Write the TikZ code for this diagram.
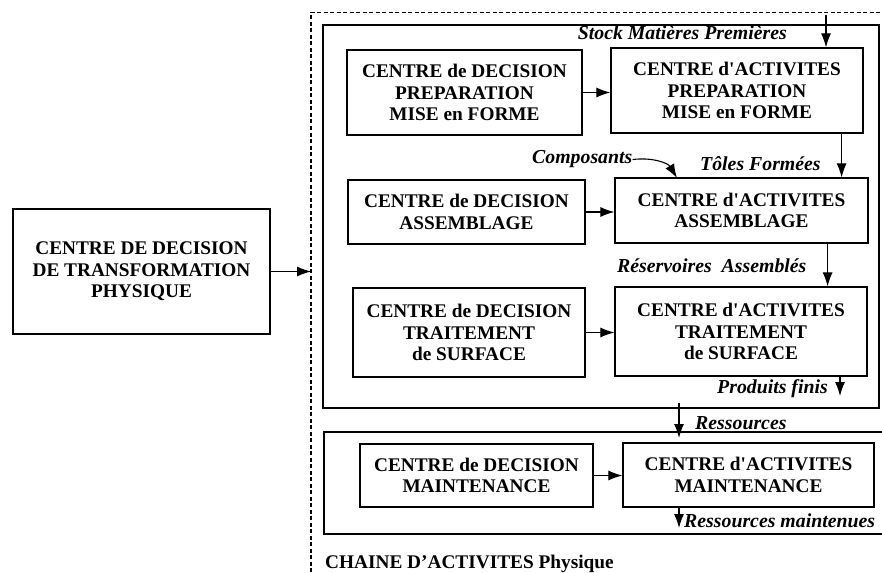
\documentclass[tikz,border=0pt]{standalone}
\usepackage{fontspec}
\setmainfont{Liberation Serif}
\usetikzlibrary{arrows.meta, positioning}

\tikzset{
  centre/.style={draw, line width=1.2pt, align=center, inner sep=0pt,
    font=\fontsize{19.3}{21.5}\selectfont\bfseries},
  flux/.style={font=\fontsize{19.8}{22}\selectfont\bfseries\itshape, inner sep=0pt},
  fl/.style={-{Latex[length=14pt,width=10pt]}, line width=1.1pt}
}

\begin{document}
\begin{tikzpicture}[x=1pt, y=-1pt]
  \useasboundingbox (0,0) rectangle (882,572);
  % chaine d'activites (dashed frame) and the two sub-chains
  \draw[line width=1.3pt, dash pattern=on 4pt off 2.5pt] (311,572) -- (311,12.5) -- (884,12.5);
  \draw[line width=1.1pt] (323,25) rectangle (879,408);
  \draw[line width=1.1pt] (884,432) -- (324,432) -- (324,534) -- (884,534);
  % decision centre on the left
  \node[centre, minimum width=257pt, minimum height=125pt] (dt) at (141.5,271.5)
    {CENTRE DE DECISION\\DE TRANSFORMATION\\PHYSIQUE};
  \coordinate (chaine) at (311,271.5);
  \draw[fl] (dt.east) -- (chaine);
  % preparation / mise en forme
  \node[centre, minimum width=235pt, minimum height=85pt] (dp) at (464.5,92.5)
    {CENTRE de DECISION\\PREPARATION\\MISE en FORME};
  \node[centre, minimum width=252pt, minimum height=85pt] (ap) at (737,90.5)
    {CENTRE d\textquotesingle ACTIVITES\\PREPARATION\\MISE en FORME};
  % assemblage
  \node[centre, minimum width=237pt, minimum height=64pt] (da) at (466.5,212)
    {CENTRE de DECISION\\ASSEMBLAGE};
  \node[centre, minimum width=253pt, minimum height=65pt] (aa) at (741.5,210.5)
    {CENTRE d\textquotesingle ACTIVITES\\ASSEMBLAGE};
  % traitement de surface
  \node[centre, minimum width=232pt, minimum height=89pt] (ds) at (469,332.5)
    {CENTRE de DECISION\\TRAITEMENT\\de SURFACE};
  \node[centre, minimum width=252pt, minimum height=89pt] (as) at (741,331.5)
    {CENTRE d\textquotesingle ACTIVITES\\TRAITEMENT\\de SURFACE};
  % maintenance
  \node[centre, minimum width=233pt, minimum height=63pt] (dm) at (476.5,475.5)
    {CENTRE de DECISION\\MAINTENANCE};
  \node[centre, minimum width=251pt, minimum height=64pt] (am) at (748.5,475)
    {CENTRE d\textquotesingle ACTIVITES\\MAINTENANCE};
  % decision -> activites
  \draw[fl] (dp.east) -- (ap.west |- dp.east);
  \draw[fl] (da.east) -- (aa.west |- da.east);
  \draw[fl] (ds.east) -- (as.west |- ds.east);
  \draw[fl] (dm.east) -- (am.west |- dm.east);
  % physical flows
  \node[flux, anchor=base east] (stock) at (787,40) {Stock Mati\`eres Premi\`eres};
  \coordinate (stockin) at (826,15);
  \draw[fl] (stockin) -- (stockin |- ap.north);
  \node[flux, anchor=base west] (compo) at (532,164) {Composants};
  \draw[fl] (compo.east) .. controls (652,157) and (668,163) .. (677,178);
  \node[flux, anchor=base west] (toles) at (700,170) {T\^oles Form\'ees};
  \draw[fl] ([xshift=-22pt]ap.south east) -- ([xshift=-22pt]ap.south east |- aa.north);
  \node[flux, anchor=base west] (reserv) at (617,272) {R\'eservoires\ \ Assembl\'es};
  \draw[fl] ([xshift=-41pt]aa.south east) -- ([xshift=-41pt]aa.south east |- as.north);
  \node[flux, anchor=base west] (produits) at (717,393) {Produits finis};
  \coordinate (pfout) at (840,396);
  \draw[fl] (pfout |- as.south) -- (pfout);
  % resources for maintenance
  \node[flux, anchor=base west] (ress) at (695,429) {Ressources};
  \coordinate (resin) at (679,403);
  \coordinate (resout) at (679,438);
  \draw[fl] (resin) -- (resout);
  \node[flux, anchor=base west] (maint) at (684,527) {Ressources maintenues};
  \coordinate (maintout) at (679,528);
  \draw[fl] (maintout |- am.south) -- (maintout);
  % caption of the chain
  \node[anchor=base west, inner sep=0pt, font=\fontsize{19.3}{22}\selectfont\bfseries]
    (titre) at (325,568) {CHAINE D'ACTIVITES Physique};
\end{tikzpicture}
\end{document}
